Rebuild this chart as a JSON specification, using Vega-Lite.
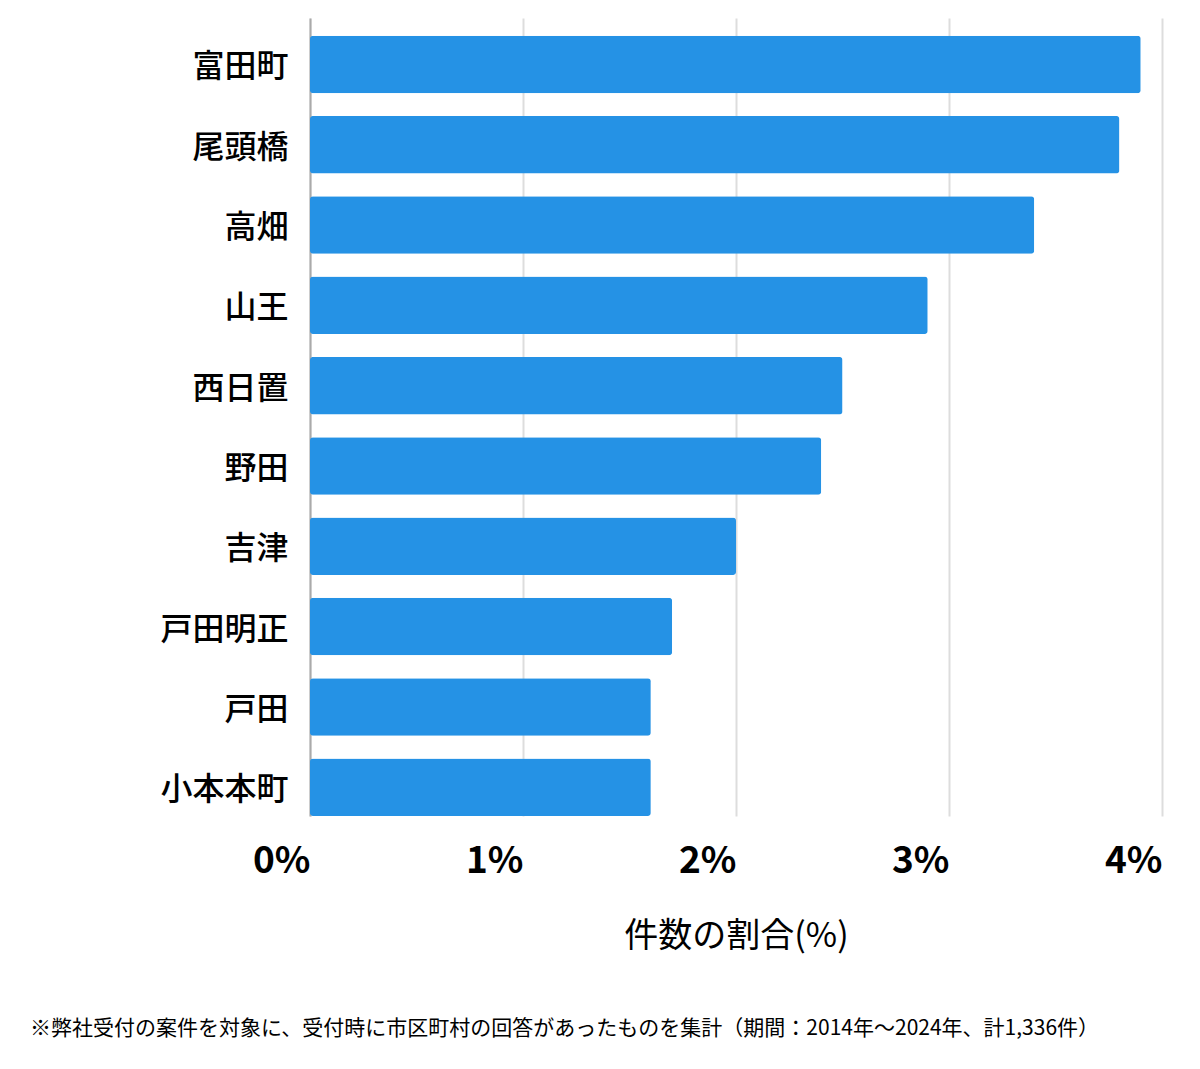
{
  "$schema": "https://vega.github.io/schema/vega-lite/v6.json",
  "width": 852,
  "height": 798,
  "autosize": {"type": "none"},
  "padding": {"left": 310, "top": 18, "right": 38, "bottom": 253},
  "background": "white",
  "config": {"view": {"stroke": null}, "font": "Noto Sans CJK JP"},
  "title": {
    "text": "※弊社受付の案件を対象に、受付時に市区町村の回答があったものを集計（期間：2014年〜2024年、計1,336件）",
    "orient": "bottom",
    "anchor": "start",
    "frame": "group",
    "fontSize": 21,
    "fontWeight": "normal",
    "color": "#000",
    "dx": -280,
    "offset": 65
  },
  "data": {
    "values": [
      {"area": "富田町", "pct": 3.9},
      {"area": "尾頭橋", "pct": 3.8},
      {"area": "高畑", "pct": 3.4},
      {"area": "山王", "pct": 2.9},
      {"area": "西日置", "pct": 2.5},
      {"area": "野田", "pct": 2.4},
      {"area": "吉津", "pct": 2.0},
      {"area": "戸田明正", "pct": 1.7},
      {"area": "戸田", "pct": 1.6},
      {"area": "小本本町", "pct": 1.6}
    ]
  },
  "mark": {"type": "bar", "color": "#2592E5", "cornerRadius": 3},
  "encoding": {
    "y": {
      "field": "area",
      "type": "nominal",
      "sort": null,
      "scale": {"paddingInner": 0.284, "paddingOuter": 0.11, "align": 1},
      "axis": {
        "title": null,
        "labelFontSize": 32,
        "labelFontWeight": 500,
        "labelColor": "#000",
        "labelPadding": 22,
        "labelOffset": 3,
        "ticks": false,
        "domainColor": "#aaaaaa",
        "domainWidth": 2,
        "grid": false
      }
    },
    "x": {
      "field": "pct",
      "type": "quantitative",
      "scale": {"domain": [0, 4], "nice": false},
      "axis": {
        "values": [0, 1, 2, 3, 4],
        "labelExpr": "datum.value + '%'",
        "labelFontSize": 37,
        "labelFontWeight": "bold",
        "labelColor": "#000",
        "labelAlign": "right",
        "labelPadding": 27,
        "domain": false,
        "ticks": false,
        "gridColor": "#dddddd",
        "gridWidth": 2,
        "title": "件数の割合(%)",
        "titleFontSize": 34,
        "titleFontWeight": "normal",
        "titleColor": "#000",
        "titlePadding": 40
      }
    }
  }
}
